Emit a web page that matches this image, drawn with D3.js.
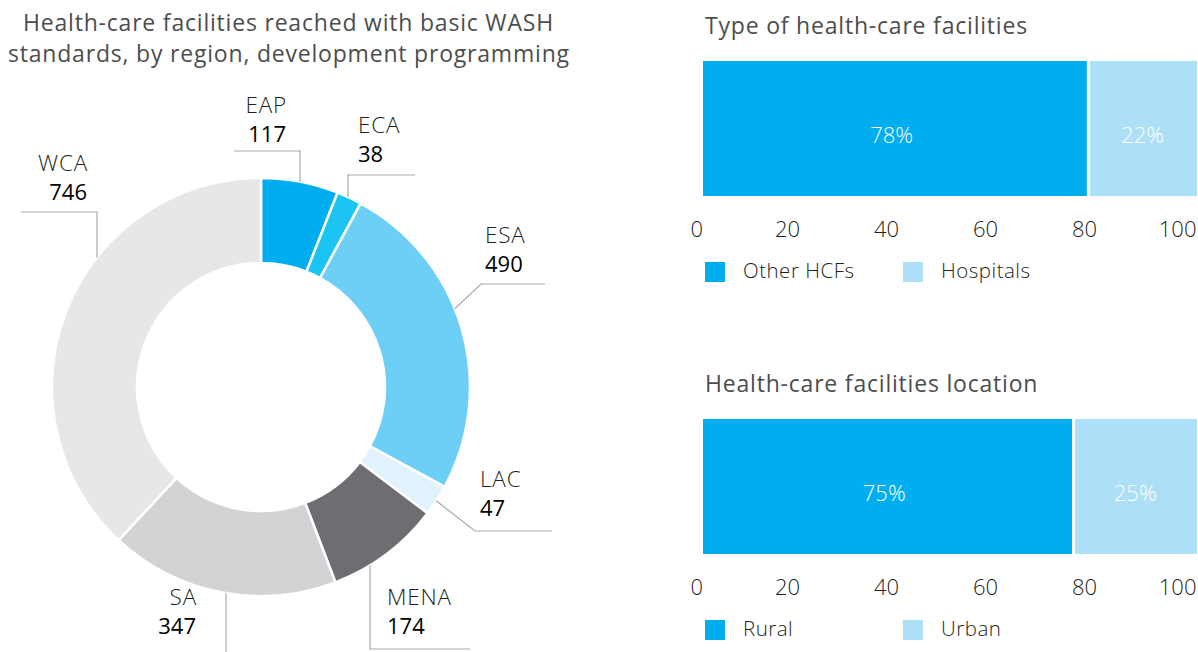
<!DOCTYPE html>
<meta charset="utf-8">
<head>
    <meta charset="utf-8">
    <title>WASH health-care facilities</title>
    <script src="https://d3js.org/d3.v7.min.js"></script>
    <style>
        body { margin: 0; background: #fff; }
        svg { display: block; font-family: "Open Sans", Roboto, sans-serif; }
    </style>
</head>
<body>
    <svg width="1198" height="652"></svg>
    <script>
        // donut data: facilities reached, by region
        var regions = ["EAP", "ECA", "ESA", "LAC", "MENA", "SA", "WCA"];
        var facilities = [117, 38, 490, 47, 174, 347, 746];
        var regionColors = ["#00AEEF", "#1CC4F3", "#6DCFF6", "#E0F2FC", "#6D6E71", "#D1D3D4", "#E6E7E8"];

        // stacked bars (percent)
        var typeCats = ["Other HCFs", "Hospitals"];
        var typeShares = [78, 22];
        var locCats = ["Rural", "Urban"];
        var locShares = [75, 25];
        var barColors = ["#00AEEF", "#ADDFF7"];
        var axisTicks = [0, 20, 40, 60, 80, 100];

        var svg = d3.select("svg");

        /** Donut **/
        var cx = 261, cy = 387, outerR = 209, innerR = 124;

        svg.append("text").attr("x", 23).attr("y", 31)
            .attr("fill", "#4d4d4d").style("font-size", "23px").style("letter-spacing", "0.8px")
            .text("Health-care facilities reached with basic WASH");
        svg.append("text").attr("x", 8).attr("y", 62)
            .attr("fill", "#4d4d4d").style("font-size", "23px").style("letter-spacing", "0.8px")
            .text("standards, by region, development programming");

        var pie = d3.pie().sort(null).value(function (d) { return d; });
        var arcs = pie(facilities);
        var arc = d3.arc().innerRadius(innerR).outerRadius(outerR);

        var donut = svg.append("g").attr("transform", "translate(" + cx + "," + cy + ")");
        donut.selectAll("path")
            .data(arcs)
            .enter().append("path")
            .attr("d", arc)
            .attr("fill", function (d, i) { return regionColors[i]; })
            .attr("stroke", "#fff")
            .attr("stroke-width", 2.5);

        // label layout: text spot + leader (v = vertical drop to ring, d = diagonal at angle)
        var labelLayout = [
            { x: 287, y: 113, anchor: "end", lead: "v", side: -1, ex: 300, ey: 151, endX: 234 },
            { x: 358, y: 133, anchor: "start", lead: "v", side: -1, ex: 348, ey: 175, endX: 415 },
            { x: 485, y: 243, anchor: "start", lead: "d", ang: 68, ex: 481, ey: 284, endX: 545 },
            { x: 480, y: 487, anchor: "start", lead: "d", ang: 123, ex: 475, ey: 531, endX: 552 },
            { x: 387, y: 605, anchor: "start", lead: "v", side: 1, ex: 370, ey: 649, endX: 470 },
            { x: 197, y: 605, anchor: "end", lead: "v", side: 1, ex: 226, ey: 660, endX: 226 },
            { x: 88, y: 171, anchor: "end", lead: "v", side: -1, ex: 97, ey: 212, endX: 21 }
        ];

        var leaders = svg.append("g");
        labelLayout.forEach(function (L, i) {
            var sx, sy;
            if (L.lead == "v") {
                sx = L.ex;
                sy = cy + L.side * Math.sqrt(outerR * outerR - (L.ex - cx) * (L.ex - cx));
            } else {
                var a = L.ang * Math.PI / 180;
                sx = cx + outerR * Math.sin(a);
                sy = cy - outerR * Math.cos(a);
            }
            leaders.append("path")
                .attr("d", d3.line()([[sx, sy], [L.ex, L.ey], [L.endX, L.ey]]))
                .attr("fill", "none")
                .attr("stroke", "#a7a9ac")
                .attr("stroke-width", 1.2);

            svg.append("text").attr("x", L.x).attr("y", L.y)
                .attr("text-anchor", L.anchor)
                .attr("fill", "#231f20").style("font-size", "22.5px").style("font-weight", 300)
                .style("letter-spacing", "0.8px")
                .text(regions[i]);
            svg.append("text").attr("x", L.anchor == "end" ? L.x - 1 : L.x).attr("y", L.y + 29)
                .attr("text-anchor", L.anchor)
                .attr("fill", "#000").style("font-size", "22px")
                .text(facilities[i]);
        });

        /** Stacked bars **/
        var xBar = d3.scaleLinear().domain([0, 100]).range([703, 1197]);
        var xAxis = d3.scaleLinear().domain([0, 100]).range([688, 1183]);

        function drawBar(title, cats, shares, top) {
            svg.append("text").attr("x", 705).attr("y", top + 34)
                .attr("fill", "#4d4d4d").style("font-size", "23px").style("letter-spacing", "0.8px")
                .text(title);

            var stack = [];
            var acc = 0;
            shares.forEach(function (v, i) {
                stack.push({ x0: acc, x1: acc + v, v: v, i: i });
                acc += v;
            });

            var barY = top + 61, barH = 135;
            var g = svg.append("g");
            g.selectAll("rect")
                .data(stack)
                .enter().append("rect")
                .attr("x", function (d) { return xBar(d.x0) + (d.i > 0 ? 1.5 : 0); })
                .attr("width", function (d) { return xBar(d.x1) - xBar(d.x0) - 1.5; })
                .attr("y", barY)
                .attr("height", barH)
                .attr("fill", function (d) { return barColors[d.i]; });

            g.selectAll("text")
                .data(stack)
                .enter().append("text")
                .attr("x", function (d) { return (xBar(d.x0) + xBar(d.x1)) / 2 - (d.i == 0 ? 4 : 0); })
                .attr("y", top + 143)
                .attr("text-anchor", "middle")
                .attr("fill", "#fff").style("font-size", "22px").style("font-weight", 300)
                .text(function (d) { return d.v + "%"; });

            var axis = svg.append("g")
                .attr("transform", "translate(0," + (top + 237) + ")")
                .call(d3.axisBottom(xAxis).tickValues(axisTicks).tickSize(0).tickFormat(d3.format("d")));
            axis.select(".domain").remove();
            axis.selectAll("text")
                .attr("y", 0).attr("dy", 0)
                .attr("fill", "#231f20")
                .style("font-size", "22px").style("font-weight", 300)
                .style("font-family", "'Open Sans', sans-serif");
            axis.selectAll(".tick").filter(function (d) { return d == 0; })
                .select("text").attr("text-anchor", "start").attr("x", 2);
            axis.selectAll(".tick").filter(function (d) { return d == 100; })
                .select("text").attr("text-anchor", "end").attr("x", 13);

            var leg = svg.append("g");
            var legX = [705, 903];
            cats.forEach(function (c, i) {
                leg.append("rect").attr("x", legX[i]).attr("y", top + 262)
                    .attr("width", 20).attr("height", 20).attr("fill", barColors[i]);
                leg.append("text").attr("x", legX[i] + 38).attr("y", top + 278)
                    .attr("fill", "#231f20").style("font-size", "20.5px").style("font-weight", 300)
                    .style("letter-spacing", "0.5px")
                    .text(c);
            });
        }

        drawBar("Type of health-care facilities", typeCats, typeShares, 0);
        drawBar("Health-care facilities location", locCats, locShares, 358);
    </script>
</body>
